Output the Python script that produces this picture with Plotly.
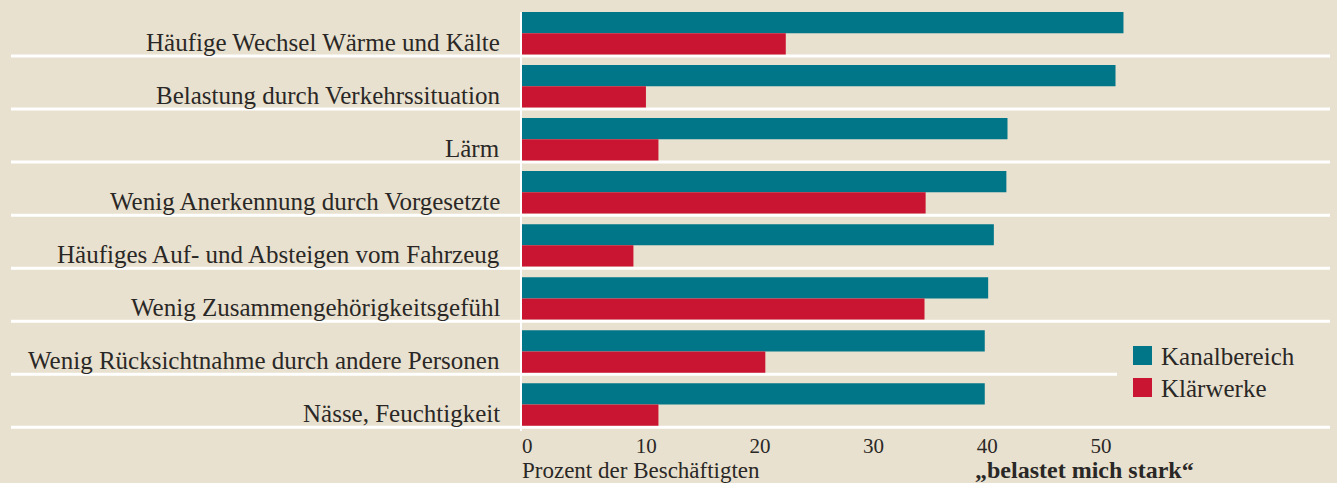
import plotly.graph_objects as go

categories = [
    "Häufige Wechsel Wärme und Kälte",
    "Belastung durch Verkehrssituation",
    "Lärm",
    "Wenig Anerkennung durch Vorgesetzte",
    "Häufiges Auf- und Absteigen vom Fahrzeug",
    "Wenig Zusammengehörigkeitsgefühl",
    "Wenig Rücksichtnahme durch andere Personen",
    "Nässe, Feuchtigkeit",
]
series_names = ["Kanalbereich", "Klärwerke"]
kanal = [52.9, 52.2, 42.7, 42.6, 41.5, 41.0, 40.7, 40.7]
klaer = [23.2, 10.9, 12.0, 35.5, 9.8, 35.4, 21.4, 12.0]
tick_vals = [0, 10, 20, 30, 40, 50]
x_title = "Prozent der Beschäftigten"
x_note = "„belastet mich stark“"

BG = "#e9e1cf"
TEAL = "#017688"
RED = "#c91531"
TXT = "#2a2826"
FONT = "Liberation Serif"

W, H = 1337, 483
ML, MR, MT, MB = 522, 7, 12, 52
PW, PH = W - ML - MR, H - MT - MB


def px_x(p):
    return (p - ML) / PW


def px_y(p):
    return (H - MB - p) / PH


fig = go.Figure()
fig.add_trace(go.Bar(y=categories, x=kanal, orientation="h", name=series_names[0],
                     marker=dict(color=TEAL, line=dict(width=0))))
fig.add_trace(go.Bar(y=categories, x=klaer, orientation="h", name=series_names[1],
                     marker=dict(color=RED, line=dict(width=0))))

shapes = []
n = len(categories)
for i in range(n):
    x_end = 1117 if i == n - 2 else 1330
    shapes.append(dict(type="line", xref="paper", yref="y",
                       x0=px_x(11), x1=px_x(x_end), y0=i + 0.43, y1=i + 0.43,
                       line=dict(color="white", width=3), layer="below"))

# legend squares
leg_y = [355.5, 387.5]
for j, col in enumerate([TEAL, RED]):
    shapes.append(dict(type="rect", xref="paper", yref="paper",
                       x0=px_x(1133), x1=px_x(1152),
                       y0=px_y(leg_y[j] + 9.5), y1=px_y(leg_y[j] - 9.5),
                       fillcolor=col, line=dict(width=0)))

annotations = []
for i, c in enumerate(categories):
    annotations.append(dict(text=c, xref="x", yref="y", x=0, y=i, xshift=-20, yshift=-9,
                            xanchor="right", yanchor="middle", showarrow=False,
                            font=dict(family=FONT, size=25, color=TXT)))
for j, nm in enumerate(series_names):
    annotations.append(dict(text=nm, xref="paper", yref="paper", x=px_x(1159), y=px_y(leg_y[j] + 1),
                            xanchor="left", yanchor="middle", showarrow=False,
                            font=dict(family=FONT, size=25, color=TXT)))
annotations.append(dict(text=x_title, xref="paper", yref="paper", x=px_x(520), y=px_y(470),
                        xanchor="left", yanchor="middle", showarrow=False,
                        font=dict(family=FONT, size=23, color=TXT)))
annotations.append(dict(text="<b>" + x_note + "</b>", xref="paper", yref="paper", x=px_x(973), y=px_y(469.5),
                        xanchor="left", yanchor="middle", showarrow=False,
                        font=dict(family=FONT, size=24, color=TXT)))

fig.update_layout(
    width=W, height=H,
    margin=dict(l=ML, r=MR, t=MT, b=MB, pad=0),
    paper_bgcolor=BG, plot_bgcolor=BG,
    barmode="group", bargap=0.2, bargroupgap=0,
    showlegend=False,
    shapes=shapes, annotations=annotations,
    xaxis=dict(range=[0, PW / 11.37], tickvals=tick_vals, showgrid=False, zeroline=False,
               showline=False, ticks="", ticklabelposition="outside right",
               tickfont=dict(family=FONT, size=21, color=TXT), fixedrange=True),
    yaxis=dict(type="category", range=[7.5, -0.4], showticklabels=False, ticks="",
               showgrid=False, zeroline=False, showline=True, linecolor="white", linewidth=2,
               fixedrange=True),
)

fig.write_html("out.html",
               post_script="document.body.style.margin='0';document.body.style.overflow='hidden';",
               config={"displayModeBar": False})
